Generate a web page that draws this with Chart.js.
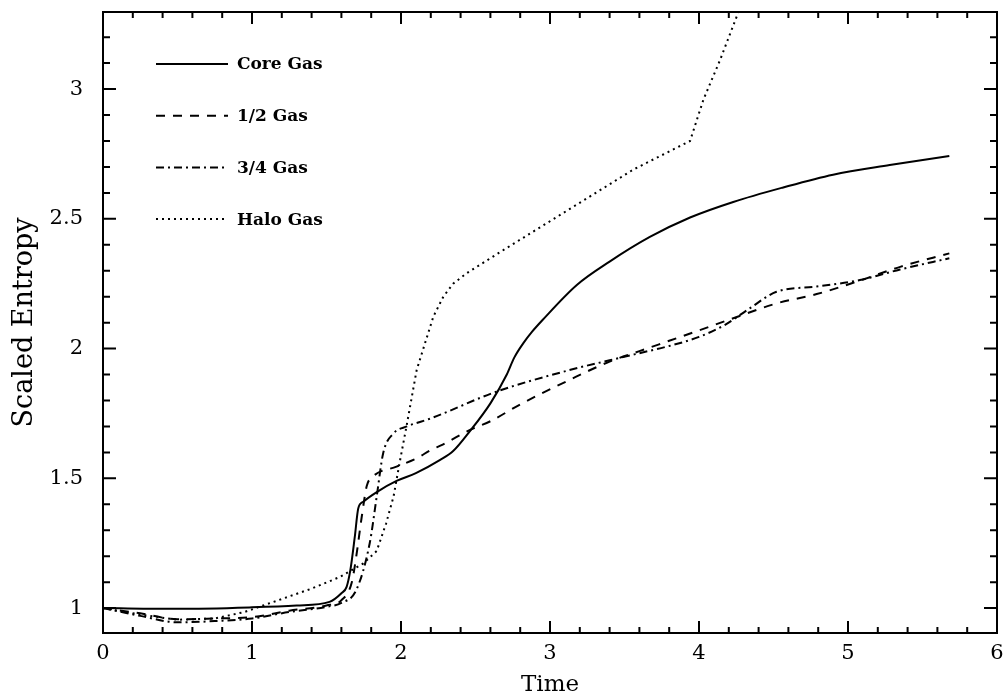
<!DOCTYPE html>
<html>
<head>
<meta charset="utf-8">
<script src="https://cdn.jsdelivr.net/npm/chart.js@4.4.1/dist/chart.umd.min.js"></script>
<style>
  html, body { margin: 0; padding: 0; background: #fff; }
  #wrap { width: 1007px; height: 699px; }
</style>
</head>
<body>
<div id="wrap"><canvas id="chart-entropy" width="1007" height="699"></canvas></div>
<script>
// values
const coreTime = [0, 0.5, 1.0, 1.3, 1.52, 1.6, 1.635, 1.66, 1.69, 1.713, 1.747, 1.84, 1.97, 2.1, 2.26, 2.35, 2.46, 2.6, 2.71, 2.76, 2.82, 2.88, 2.95, 3.18, 3.4, 3.67, 3.94, 4.23, 4.56, 4.9, 5.28, 5.68]
const coreEntropy = [1.0, 0.997, 1.003, 1.01, 1.024, 1.057, 1.082, 1.146, 1.275, 1.384, 1.41, 1.448, 1.49, 1.52, 1.57, 1.605, 1.68, 1.789, 1.9, 1.965, 2.02, 2.065, 2.11, 2.245, 2.335, 2.43, 2.505, 2.565, 2.62, 2.67, 2.707, 2.742]

const halfTime = [0, 0.25, 0.5, 0.75, 1.0, 1.25, 1.5, 1.6, 1.67, 1.7, 1.736, 1.77, 1.81, 1.97, 2.105, 2.2, 2.28, 2.46, 2.6, 2.8, 3.13, 3.4, 3.6, 3.8, 4.0, 4.23, 4.52, 4.79, 5.08, 5.35, 5.68]
const halfEntropy = [1.0, 0.98, 0.957, 0.96, 0.965, 0.99, 1.01, 1.03, 1.1, 1.2, 1.35, 1.47, 1.506, 1.545, 1.577, 1.609, 1.63, 1.686, 1.72, 1.785, 1.879, 1.95, 1.99, 2.03, 2.07, 2.117, 2.174, 2.21, 2.262, 2.315, 2.367]

const threeQTime = [0, 0.25, 0.5, 0.75, 1.0, 1.25, 1.5, 1.6, 1.7, 1.79, 1.837, 1.88, 1.95, 2.04, 2.2, 2.64, 3.13, 3.4, 3.62, 3.8, 4.0, 4.17, 4.34, 4.52, 4.79, 5.08, 5.35, 5.68]
const threeQEntropy = [1.0, 0.97, 0.945, 0.95, 0.96, 0.985, 1.005, 1.02, 1.07, 1.25, 1.43, 1.596, 1.673, 1.7, 1.731, 1.834, 1.917, 1.955, 1.985, 2.01, 2.045, 2.09, 2.155, 2.219, 2.239, 2.264, 2.305, 2.348]

const haloTime = [0, 0.25, 0.5, 0.75, 0.95, 1.14, 1.4, 1.59, 1.747, 1.837, 1.9, 1.95, 1.99, 2.04, 2.105, 2.15, 2.217, 2.284, 2.35, 2.44, 2.66, 3.11, 3.56, 3.94, 4.03, 4.14, 4.26, 4.35]
const haloEntropy = [1.0, 0.975, 0.955, 0.96, 0.985, 1.023, 1.075, 1.12, 1.172, 1.22, 1.326, 1.43, 1.558, 1.71, 1.917, 2.0, 2.123, 2.2, 2.25, 2.29, 2.37, 2.53, 2.69, 2.8, 2.96, 3.11, 3.29, 3.43]

const seriesNames = ['Core Gas', '1/2 Gas', '3/4 Gas', 'Halo Gas']
const xTickValues = [0, 1, 2, 3, 4, 5, 6]
const yTickValues = [1, 1.5, 2, 2.5, 3]

const pts = (xs, ys) => xs.map((x, i) => ({ x: x, y: ys[i] }))

const serif = '"DejaVu Serif", "Liberation Serif", serif'
Chart.defaults.color = '#000'
Chart.defaults.font.family = serif

// frame with inward ticks on all four sides, like the original plot
const frameTicks = {
	id: 'frameTicks',
	afterDatasetsDraw(chart) {
		const { ctx, chartArea: a, scales: { x, y } } = chart
		ctx.save()
		ctx.strokeStyle = '#000'
		ctx.lineWidth = 2
		ctx.strokeRect(a.left, a.top, a.right - a.left, a.bottom - a.top)
		ctx.beginPath()
		for (let i = 0; i <= 30; i++) {
			const v = i / 5
			const px = x.getPixelForValue(v)
			const len = i % 5 === 0 ? 12 : 6
			ctx.moveTo(px, a.bottom); ctx.lineTo(px, a.bottom - len)
			ctx.moveTo(px, a.top); ctx.lineTo(px, a.top + len)
		}
		for (let i = 9; i <= 33; i++) {
			const v = i / 10
			if (v < y.min || v > y.max) continue
			const py = y.getPixelForValue(v)
			const len = i % 5 === 0 ? 13 : 7
			ctx.moveTo(a.left, py); ctx.lineTo(a.left + len, py)
			ctx.moveTo(a.right, py); ctx.lineTo(a.right - len, py)
		}
		ctx.stroke()
		ctx.restore()
	}
}

// legend in the upper left of the plot: line sample then bold label
const innerLegend = {
	id: 'innerLegend',
	afterDraw(chart) {
		const { ctx, chartArea: a } = chart
		ctx.save()
		chart.data.datasets.forEach((ds, i) => {
			const yy = a.top + 52 + i * 51.7
			ctx.strokeStyle = '#000'
			ctx.lineWidth = ds.borderWidth
			ctx.setLineDash(ds.borderDash || [])
			ctx.beginPath()
			ctx.moveTo(a.left + 53, yy)
			ctx.lineTo(a.left + 125, yy)
			ctx.stroke()
			ctx.setLineDash([])
			ctx.fillStyle = '#000'
			ctx.font = 'bold 17px ' + serif
			ctx.textBaseline = 'middle'
			ctx.fillText(ds.label, a.left + 134, yy + 1)
		})
		ctx.restore()
	}
}

const chartEntropy = new Chart(document.getElementById('chart-entropy'), {
	type: 'line',
	data: {
		datasets: [
			{ label: seriesNames[0], data: pts(coreTime, coreEntropy), borderColor: '#000', borderWidth: 2, borderDash: [] },
			{ label: seriesNames[1], data: pts(halfTime, halfEntropy), borderColor: '#000', borderWidth: 2, borderDash: [9, 8] },
			{ label: seriesNames[2], data: pts(threeQTime, threeQEntropy), borderColor: '#000', borderWidth: 2, borderDash: [8, 4, 2, 4] },
			{ label: seriesNames[3], data: pts(haloTime, haloEntropy), borderColor: '#000', borderWidth: 2, borderDash: [2, 4], cubicInterpolationMode: 'default', tension: 0 }
		]
	},
	options: {
		responsive: false,
		animation: false,
		events: [],
		elements: {
			point: { radius: 0 },
			line: { cubicInterpolationMode: 'monotone', fill: false }
		},
		layout: { padding: { top: 12, right: 10, left: 0, bottom: 0 } },
		scales: {
			x: {
				type: 'linear',
				min: 0,
				max: 6,
				grid: { display: false, drawTicks: false },
				border: { display: false },
				afterBuildTicks: s => { s.ticks = xTickValues.map(v => ({ value: v })) },
				afterFit: s => { s.height = 66; s.paddingLeft = 0; s.paddingRight = 0 },
				ticks: { padding: 8, font: { size: 21 }, callback: v => String(v) },
				title: { display: true, text: 'Time', font: { size: 23 }, padding: { top: 0, bottom: 0 } }
			},
			y: {
				type: 'linear',
				min: 0.904,
				max: 3.297,
				grid: { display: false, drawTicks: false },
				border: { display: false },
				afterBuildTicks: s => { s.ticks = yTickValues.map(v => ({ value: v })) },
				afterFit: s => { s.width = 103; s.paddingTop = 0; s.paddingBottom = 0 },
				ticks: { padding: 20, font: { size: 21 }, callback: v => String(v) },
				title: { display: true, text: 'Scaled Entropy', font: { size: 27 }, padding: { top: 9, bottom: 0 } }
			}
		},
		plugins: {
			legend: { display: false },
			tooltip: { enabled: false }
		}
	},
	plugins: [frameTicks, innerLegend]
})
</script>
</body>
</html>
